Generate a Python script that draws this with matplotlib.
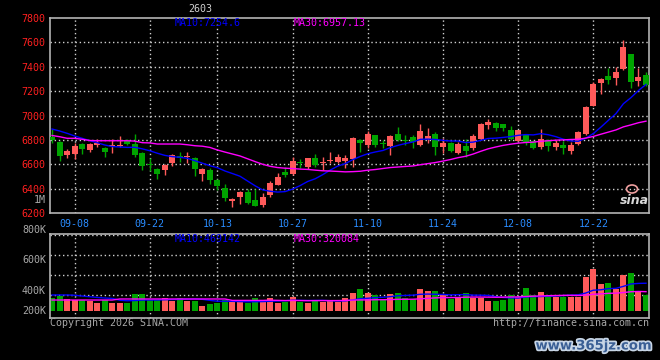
import numpy as np
import pandas as pd
import matplotlib
matplotlib.use('Agg')
import matplotlib.pyplot as plt
import matplotlib.patheffects as pe
from matplotlib.patches import Ellipse

# trading days, Oct 1-8 holiday
holidays = ['2025-10-01', '2025-10-02', '2025-10-03', '2025-10-06', '2025-10-07', '2025-10-08']
dates = pd.bdate_range('2025-09-03', '2025-12-31', freq='C', holidays=holidays)
day_labels = list(dates.strftime('%m-%d'))
tick_dates = ['09-08', '09-22', '10-13', '10-27', '11-10', '11-24', '12-08', '12-22']

opens = [6826, 6785, 6679, 6687, 6766, 6717, 6758, 6733, 6747, 6752,
         6788, 6766, 6690, 6602, 6561, 6553, 6613, 6668, 6660, 6649,
         6523, 6553, 6471, 6405, 6301, 6334, 6370, 6307, 6263, 6348,
         6430, 6539, 6523, 6621, 6580, 6651, 6608, 6627, 6616, 6627,
         6640, 6799, 6758, 6840, 6777, 6750, 6848, 6799, 6824, 6758,
         6805, 6848, 6744, 6777, 6695, 6752, 6731, 6807, 6922, 6938,
         6930, 6884, 6794, 6843, 6794, 6739, 6802, 6742, 6761, 6711,
         6766, 6848, 7081, 7267, 7327, 7308, 7382, 7507, 7286, 7330]
highs = [6886, 6794, 6725, 6772, 6772, 6777, 6805, 6744, 6805, 6832,
         6805, 6851, 6703, 6651, 6567, 6602, 6681, 6701, 6703, 6657,
         6567, 6567, 6476, 6435, 6320, 6383, 6394, 6397, 6367, 6460,
         6526, 6580, 6657, 6640, 6655, 6684, 6662, 6703, 6681, 6676,
         6826, 6805, 6873, 6843, 6799, 6843, 6903, 6840, 6840, 6930,
         6895, 6862, 6813, 6785, 6785, 6805, 6848, 6936, 6971, 6947,
         6930, 6911, 6881, 6848, 6799, 6889, 6807, 6802, 6788, 6783,
         6870, 7075, 7275, 7308, 7390, 7395, 7619, 7507, 7390, 7357]
lows = [6777, 6627, 6649, 6646, 6681, 6703, 6744, 6657, 6695, 6744,
        6758, 6657, 6553, 6547, 6482, 6512, 6588, 6618, 6608, 6506,
        6463, 6438, 6389, 6301, 6252, 6274, 6274, 6257, 6252, 6334,
        6427, 6493, 6515, 6567, 6561, 6580, 6553, 6608, 6608, 6567,
        6580, 6703, 6731, 6744, 6736, 6676, 6791, 6758, 6736, 6752,
        6772, 6676, 6690, 6703, 6684, 6662, 6717, 6799, 6889, 6870,
        6870, 6802, 6788, 6755, 6725, 6728, 6711, 6717, 6684, 6684,
        6761, 6837, 7075, 7176, 7261, 7253, 7376, 7226, 7239, 7239]
closes = [6802, 6670, 6712, 6752, 6725, 6769, 6777, 6703, 6752, 6758,
          6766, 6676, 6588, 6594, 6523, 6591, 6673, 6651, 6665, 6564,
          6561, 6471, 6422, 6326, 6312, 6372, 6282, 6260, 6329, 6449,
          6493, 6512, 6627, 6613, 6649, 6594, 6618, 6635, 6660, 6651,
          6818, 6777, 6848, 6758, 6769, 6832, 6799, 6788, 6785, 6873,
          6835, 6744, 6777, 6709, 6763, 6709, 6832, 6930, 6944, 6897,
          6897, 6810, 6881, 6774, 6733, 6810, 6747, 6774, 6733, 6755,
          6865, 7070, 7258, 7300, 7294, 7357, 7562, 7272, 7316, 7253]
# volume in thousands
volumes = [227, 257, 205, 187, 187, 164, 135, 187, 140, 140,
           140, 292, 292, 187, 187, 216, 170, 216, 170, 170,
           88, 112, 140, 187, 170, 170, 140, 227, 187, 227,
           140, 151, 245, 151, 140, 187, 151, 170, 151, 227,
           310, 380, 310, 275, 187, 292, 310, 227, 205, 380,
           345, 345, 275, 205, 216, 310, 216, 216, 170, 170,
           187, 275, 245, 397, 275, 333, 275, 245, 245, 245,
           245, 595, 735, 467, 480, 380, 625, 660, 345, 275]

# moving averages before the window fills
ma10_head = [6889, 6873, 6854, 6832, 6813, 6794, 6777, 6758, 6745]
ma30_head = [6836, 6826, 6813, 6813, 6805, 6795, 6793, 6793, 6793, 6793,
             6793, 6790, 6777, 6775, 6766, 6766, 6766, 6766, 6760, 6752,
             6748, 6738, 6717, 6700, 6684, 6668, 6645, 6622, 6600]
vma10_head = [275, 275, 275, 270, 257, 245, 232, 222, 215]
vma30_head = [187] * 9 + [205] * 15 + [180] * 5

RED = '#ff5a5a'
GREEN = '#00a400'
GRID = '#cfcfcf'
BORDER = '#b4b4b4'
GRAY = '#a8a8a8'
MONO = 'DejaVu Sans Mono'
FS = 7.2


def with_head(values, n, head):
    out = pd.Series(values, dtype=float).rolling(n).mean().values
    out[:len(head)] = head
    return out


opens = np.array(opens, float)
closes = np.array(closes, float)
highs = np.array(highs, float)
lows = np.array(lows, float)
volumes = np.array(volumes, float)
x = np.arange(len(closes))
up = closes >= opens
colors = np.where(up, RED, GREEN)
tick_pos = [day_labels.index(d) for d in tick_dates]

W, H = 660, 360
fig = plt.figure(figsize=(W / 100, H / 100), dpi=100)
fig.patch.set_facecolor('black')


def fx(px):
    return px / W


def fy(py):
    return 1 - py / H


ax = fig.add_axes([fx(50), fy(213), fx(649) - fx(50), fy(18) - fy(213)])
vax = fig.add_axes([fx(50), fy(318), fx(649) - fx(50), fy(234) - fy(318)])

xlim = (-0.27, len(x) - 1 + 0.4)
for a in (ax, vax):
    a.set_facecolor('black')
    a.set_xlim(*xlim)
    for s in a.spines.values():
        s.set_color(BORDER)
        s.set_linewidth(1.2)
    a.tick_params(length=0)
    for p in tick_pos:
        a.axvline(p, color=GRID, lw=1, ls=(0, (1, 2)), zorder=0)

# price panel
ax.set_ylim(6200, 7800)
for lvl in range(6400, 7800, 200):
    ax.axhline(lvl, color=GRID, lw=1, ls=(0, (1, 2)), zorder=0)
ax.vlines(x, lows, highs, colors=colors, lw=1, zorder=2)
ax.bar(x, np.maximum(np.abs(closes - opens), 8), bottom=np.minimum(opens, closes),
       width=0.8, color=colors, lw=0, zorder=3)
ax.plot(x, with_head(closes, 10, ma10_head), color='#0000ff', lw=1, zorder=4)
ax.plot(x, with_head(closes, 30, ma30_head), color='#ff00ff', lw=1, zorder=4)
ax.set_yticks(range(6200, 7801, 200))
ax.set_yticklabels([str(v) for v in range(6200, 7801, 200)], color='#ff2020',
                   family=MONO, fontsize=FS)
ax.tick_params(axis='y', pad=3)
ax.set_xticks(tick_pos)
ax.set_xticklabels(tick_dates, color='#2a8cff', family=MONO, fontsize=FS)
ax.tick_params(axis='x', pad=4)

# volume panel (baseline at y=310.7px, ~17.5K per px)
kpp = 17.5
vax.set_ylim(-(318 - 310.7) * kpp, (310.7 - 234) * kpp)
for py in (235, 255, 275, 295):
    vax.axhline((310.7 - py) * kpp, color=GRID, lw=1, ls=(0, (1, 2)), zorder=0)
vax.bar(x, volumes, width=0.8, color=colors, lw=0, zorder=2)
vax.plot(x, with_head(volumes, 10, vma10_head), color='#0000ff', lw=1, zorder=3)
vax.plot(x, with_head(volumes, 30, vma30_head), color='#ff00ff', lw=1, zorder=3)
vax.set_yticks([])
vax.set_xticks([])

txt = dict(family=MONO, fontsize=FS, va='center')
fig.text(fx(175), fy(23.5), 'MA10:7254.6', color='#0000ff', **txt)
fig.text(fx(294), fy(23.5), 'MA30:6957.13', color='#ff00ff', **txt)
fig.text(fx(175), fy(239), 'MA10:469142', color='#0000ff', **txt)
fig.text(fx(294), fy(239), 'MA30:320084', color='#ff00ff', **txt)
fig.text(fx(200), fy(9.5), '2603', color='#d0d0d0', ha='center', **txt)
fig.text(fx(46), fy(200), '1M', color=GRAY, ha='right', **txt)
for lab, py in [('800K', 230), ('600K', 260), ('400K', 291), ('200K', 311)]:
    fig.text(fx(46), fy(py), lab, color=GRAY, ha='right', **txt)
fig.text(fx(50), fy(323.5), 'Copyright 2026 SINA.COM', color=GRAY, ha='left', **txt)
fig.text(fx(649), fy(323.5), 'http://finance.sina.com.cn', color=GRAY, ha='right', **txt)

# sina logo and site watermark
fig.text(fx(634), fy(200), 'sina', color='#d8d8d8', ha='center', va='center',
         fontsize=9, fontweight='bold', style='italic')
fig.patches.append(Ellipse((fx(632), fy(189)), fx(11), 8 / H, transform=fig.transFigure,
                           fill=False, ec='#f0a0a0', lw=1.2))
fig.text(fx(594), fy(346), 'www.365jz.com', color='#3a5f95', ha='center', va='center',
         fontsize=9.5, fontweight='bold',
         path_effects=[pe.withStroke(linewidth=2.5, foreground='#c8d6e6')])

fig.savefig('out.png', dpi=100, facecolor='black')
